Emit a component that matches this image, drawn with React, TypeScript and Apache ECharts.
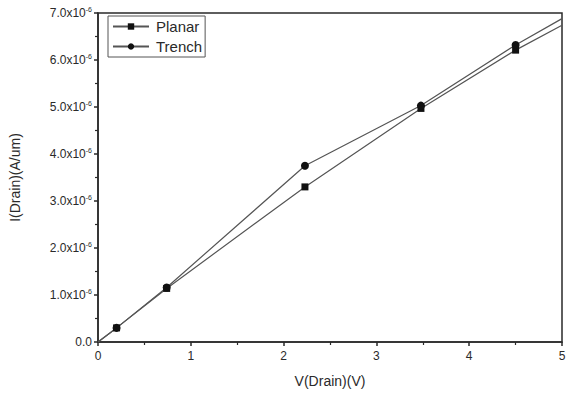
import React, { useEffect, useRef } from "react";
import * as echarts from "echarts";

const seriesNames = ["Planar", "Trench"];
const voltage = [0, 0.2, 0.74, 2.23, 3.48, 4.5, 5];
const planarCurrent = [0, 0.3e-6, 1.14e-6, 3.3e-6, 4.97e-6, 6.21e-6, 6.74e-6];
const trenchCurrent = [0, 0.3e-6, 1.16e-6, 3.75e-6, 5.03e-6, 6.32e-6, 6.88e-6];
const hiddenMarkerIndex = [0, 6];

const ink = "#2a2a2a";

function buildData(ys: number[]) {
  return voltage.map((x, i) =>
    hiddenMarkerIndex.includes(i) ? { value: [x, ys[i]], symbol: "none" } : { value: [x, ys[i]] }
  );
}

export default function App() {
  const ref = useRef<HTMLDivElement>(null);
  useEffect(() => {
    if (!ref.current) return;
    const chart = echarts.init(ref.current, undefined, { renderer: "svg" });
    const font = "Arial, 'Liberation Sans', sans-serif";
    chart.setOption({
      animation: false,
      backgroundColor: "#ffffff",
      textStyle: { fontFamily: font },
      grid: { left: 98, right: 17, top: 13, bottom: 53, show: true, borderColor: ink, borderWidth: 1.5, backgroundColor: "transparent" },
      legend: {
        left: 108,
        top: 16,
        orient: "vertical",
        itemGap: 5,
        itemWidth: 36,
        itemHeight: 8,
        padding: [3, 3, 3, 4],
        borderColor: "#555",
        borderWidth: 1,
        data: seriesNames,
        textStyle: { fontSize: 15, color: ink, fontFamily: font, padding: [0, 0, 0, 2] },
      },
      xAxis: {
        type: "value",
        min: 0,
        max: 5,
        interval: 1,
        name: "V(Drain)(V)",
        nameLocation: "middle",
        nameGap: 32,
        nameTextStyle: { fontSize: 14, color: ink, fontFamily: font },
        axisLine: { show: true, lineStyle: { color: ink, width: 1.5 } },
        axisTick: { show: true, length: 4, lineStyle: { color: ink, width: 1.5 } },
        minorTick: { show: true, splitNumber: 2, length: 3, lineStyle: { color: ink, width: 1.2 } },
        splitLine: { show: false },
        axisLabel: { fontSize: 12, color: ink, margin: 8, fontFamily: font },
      },
      yAxis: {
        type: "value",
        min: 0,
        max: 7e-6,
        interval: 1e-6,
        name: "I(Drain)(A/um)",
        nameLocation: "middle",
        nameGap: 76,
        nameTextStyle: { fontSize: 14, color: ink, fontFamily: font },
        axisLine: { show: true, lineStyle: { color: ink, width: 1.5 } },
        axisTick: { show: true, length: 4, lineStyle: { color: ink, width: 1.5 } },
        minorTick: { show: true, splitNumber: 2, length: 3, lineStyle: { color: ink, width: 1.2 } },
        splitLine: { show: false },
        axisLabel: {
          margin: 6,
          color: ink,
          formatter: (v: number) => {
            const m = Math.round(v * 1e6 * 10) / 10;
            if (m === 0) return "{b|0.0}";
            return `{b|${m.toFixed(1)}x10}{sup|-6}`;
          },
          rich: {
            b: { fontSize: 12, color: ink, fontFamily: font },
            sup: { fontSize: 7, color: ink, fontFamily: font, verticalAlign: "top", padding: [0, 0, 8, 0] },
          },
        },
      },
      series: [
        {
          name: seriesNames[0],
          type: "line",
          data: buildData(planarCurrent),
          symbol: "rect",
          symbolSize: 7,
          itemStyle: { color: "#111" },
          lineStyle: { color: "#555", width: 1.2 },
        },
        {
          name: seriesNames[1],
          type: "line",
          data: buildData(trenchCurrent),
          symbol: "circle",
          symbolSize: 8,
          itemStyle: { color: "#111" },
          lineStyle: { color: "#555", width: 1.2 },
        },
      ],
    });
    return () => chart.dispose();
  }, []);
  return <div ref={ref} style={{ width: 579, height: 395, position: "fixed", left: 0, top: 0 }} />;
}
